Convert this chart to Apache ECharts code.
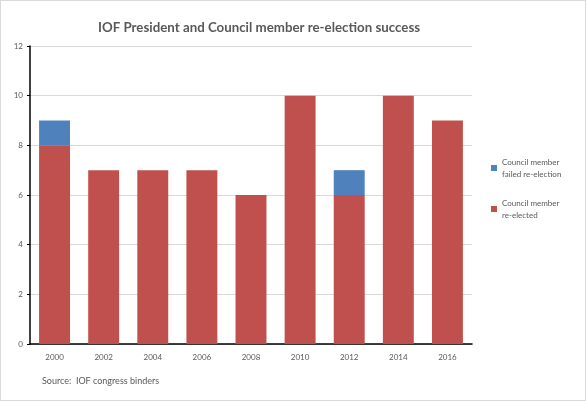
<!DOCTYPE html>
<html>
<head>
<meta charset="utf-8">
<script src="https://cdn.jsdelivr.net/npm/echarts@6/dist/echarts.min.js"></script>
<style>
  html, body { margin: 0; padding: 0; background: #fff; }
  #chart { width: 584px; height: 399px; border: 1px solid #d9d9d9; }
</style>
</head>
<body>
<div id="chart"></div>
<script>
// 年份与两组数据
const years = ['2000', '2002', '2004', '2006', '2008', '2010', '2012', '2014', '2016'];
const reElected = [8, 7, 7, 7, 6, 10, 6, 10, 9];
const failed = [1, 0, 0, 0, 0, 0, 1, 0, 0];
const yTicks = { min: 0, max: 12, interval: 2 };

const chart = echarts.init(document.getElementById('chart'));
const labelFont = 'Lato, Liberation Sans, sans-serif';

chart.setOption({
  animation: false,
  title: {
    text: 'IOF President and Council member re-election success',
    left: 92,
    top: 15,
    textStyle: { fontSize: 13.3, fontWeight: 'bold', color: '#595959', fontFamily: 'Lato, sans-serif' }
  },
  grid: { left: 29, right: 113, top: 45, bottom: 56 },
  legend: {
    orient: 'vertical',
    left: 485,
    top: 150,
    itemWidth: 6,
    itemHeight: 6,
    itemGap: 17,
    icon: 'rect',
    data: [
      { name: 'Council member\nfailed re-election' },
      { name: 'Council member\nre-elected' }
    ],
    textStyle: { fontSize: 8, color: '#595959', lineHeight: 12, fontFamily: labelFont }
  },
  xAxis: {
    type: 'category',
    data: years,
    axisLine: { lineStyle: { color: '#000', width: 1.5 } },
    axisTick: { show: false },
    axisLabel: { fontSize: 8, color: '#595959', margin: 9, fontFamily: labelFont }
  },
  yAxis: {
    type: 'value',
    min: yTicks.min,
    max: yTicks.max,
    interval: yTicks.interval,
    axisLine: { show: true, lineStyle: { color: '#000', width: 1.5 } },
    axisTick: { show: true, length: 3, lineStyle: { color: '#000' } },
    splitLine: { lineStyle: { color: '#d9d9d9' } },
    axisLabel: { fontSize: 8, color: '#595959', margin: 7, fontFamily: labelFont }
  },
  series: [
    {
      name: 'Council member\nre-elected',
      type: 'bar',
      stack: 'total',
      barCategoryGap: '37%',
      data: reElected,
      itemStyle: { color: '#C0504D' }
    },
    {
      name: 'Council member\nfailed re-election',
      type: 'bar',
      stack: 'total',
      data: failed,
      itemStyle: { color: '#4F81BD' }
    }
  ],
  graphic: [{
    type: 'text',
    left: 41,
    top: 376,
    style: { text: 'Source:  IOF congress binders', fontSize: 9, fill: '#595959', fontFamily: labelFont }
  }]
});
</script>
</body>
</html>
